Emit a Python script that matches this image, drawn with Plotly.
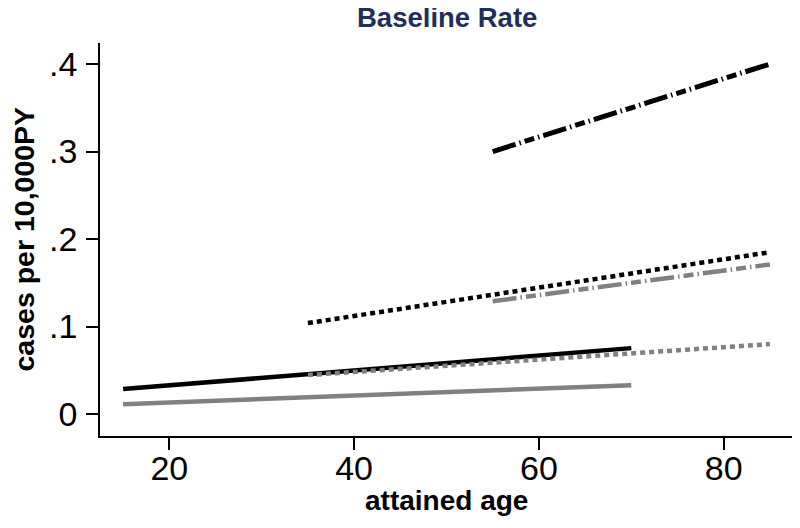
import plotly.graph_objects as go

# Data (age endpoints and rates per 10,000 PY)
black_solid_x = [15, 70]
black_solid_y = [0.0286, 0.0754]
gray_solid_x = [15, 70]
gray_solid_y = [0.0114, 0.033]
black_dot_x = [35, 85]
black_dot_y = [0.104, 0.185]
gray_dot_x = [35, 85]
gray_dot_y = [0.0446, 0.080]
black_dashdot_x = [55, 85]
black_dashdot_y = [0.300, 0.400]
gray_dashdot_x = [55, 85]
gray_dashdot_y = [0.129, 0.171]

x_ticks = [20, 40, 60, 80]
y_ticks = [0, 0.1, 0.2, 0.3, 0.4]
y_ticklabels = ["0", ".1", ".2", ".3", ".4"]

title_text = "Baseline Rate"
x_title = "attained age"
y_title = "cases per 10,000PY"

BLACK = "#000000"
GRAY = "#808080"
DOT = "5px,4px"
DASHDOT = "24px,4px,1.5px,4px,10px,4px,1.5px,4px"
FONT = "Liberation Sans, Arial, sans-serif"

OFF = 8  # page body margin offset
W, H = 800, 528
PX0, PY0, PX1, PY1 = 100, 43, 793, 436  # target plot box in page pixels
L, T = PX0 - OFF, PY0 - OFF
PW, PH = PX1 - PX0, PY1 - PY0
R, B = W - L - PW, H - T - PH

fig = go.Figure()
series = [
    (black_solid_x, black_solid_y, BLACK, "solid", 4.5),
    (gray_solid_x, gray_solid_y, GRAY, "solid", 4.5),
    (black_dot_x, black_dot_y, BLACK, DOT, 4.5),
    (gray_dot_x, gray_dot_y, GRAY, DOT, 4.5),
    (black_dashdot_x, black_dashdot_y, BLACK, DASHDOT, 5),
    (gray_dashdot_x, gray_dashdot_y, GRAY, DASHDOT, 4.5),
]
for xs, ys, col, dash, w in series:
    fig.add_trace(go.Scatter(x=xs, y=ys, mode="lines",
                             line=dict(color=col, dash=dash, width=w),
                             showlegend=False, hoverinfo="skip"))

fig.update_layout(
    width=W, height=H,
    margin=dict(l=L, r=R, t=T, b=B),
    paper_bgcolor="white", plot_bgcolor="white",
    font=dict(family=FONT, color="black"),
    annotations=[
        dict(text="<b>%s</b>" % title_text, xref="paper", yref="paper",
             x=0.5, y=1 + (PY0 - 18) / PH, xanchor="center", yanchor="middle",
             showarrow=False, font=dict(size=27.5, color="#1F2E5C", family=FONT)),
        dict(text="<b>%s</b>" % x_title, xref="paper", yref="paper",
             x=0.5, y=-(500 - PY1) / PH, xanchor="center", yanchor="middle",
             showarrow=False, font=dict(size=28, color="black", family=FONT)),
        dict(text="<b>%s</b>" % y_title, xref="paper", yref="paper",
             x=-(PX0 - 23) / PW, y=0.5, xanchor="center", yanchor="middle",
             textangle=-90, showarrow=False,
             font=dict(size=28.5, color="black", family=FONT)),
    ],
)
fig.update_xaxes(
    range=[12.5, 87.5], tickvals=x_ticks, ticktext=[str(v) for v in x_ticks],
    showline=True, linecolor="black", linewidth=1.5, mirror=False,
    ticks="outside", ticklen=12, tickwidth=1.5, tickcolor="black",
    showgrid=False, zeroline=False, automargin=False,
    tickfont=dict(size=34), ticklabelstandoff=-11,
)
fig.update_yaxes(
    range=[-0.025, 0.424], tickvals=y_ticks, ticktext=y_ticklabels,
    showline=True, linecolor="black", linewidth=1.5, mirror=False,
    ticks="outside", ticklen=12, tickwidth=1.5, tickcolor="black",
    showgrid=False, zeroline=False, automargin=False,
    tickfont=dict(size=34), ticklabelstandoff=2,
)

fig.write_html("out.html")
